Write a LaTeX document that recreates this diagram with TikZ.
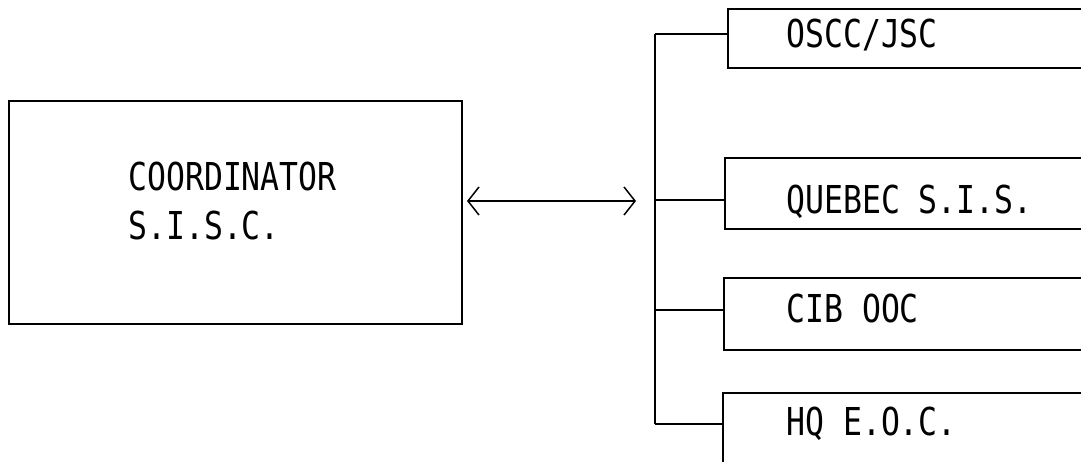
\documentclass[tikz,border=0pt]{standalone}
\usepackage{fontspec}
\newfontfamily\typefont{DejaVu Sans Mono}
\usetikzlibrary{arrows.meta}
\newcommand\tallt[1]{\scalebox{1}[1.22]{#1}}
\tikzset{
  box/.style={draw, line width=2pt, rectangle, inner sep=0pt, anchor=north west},
  stub/.style={line width=1.6pt},
  lbl/.style={anchor=base west, inner sep=0pt, font=\typefont\fontsize{31.5}{36}\selectfont},
  barb/.tip={Straight Barb[length=11pt,width=28pt,line width=1.5pt]},
  dbl/.style={line width=2pt, barb-barb}
}
\begin{document}
\begin{tikzpicture}[x=1pt,y=-1pt]
\useasboundingbox (0,0) rectangle (1081,461);
\clip (0,0) rectangle (1081,461);
% left box
\node[box, minimum width=453pt, minimum height=223pt] (coord) at (8,100) {};
\node[lbl] (t1) at (128,190) {\tallt{COORDINATOR}};
\node[lbl] (t2) at (128,239) {\tallt{S.I.S.C.}};
% right boxes (open to the right edge)
\node[box, minimum width=500pt, minimum height=59pt] (oscc) at (727,8) {};
\node[box, minimum width=500pt, minimum height=71pt] (queb) at (724,157) {};
\node[box, minimum width=500pt, minimum height=72pt] (cib) at (723,277) {};
\node[box, minimum width=500pt, minimum height=120pt] (hq) at (722,392) {};
\node[lbl] (l1) at (786,47) {\tallt{OSCC/JSC}};
\node[lbl] (l2) at (786,213) {\tallt{QUEBEC S.I.S.}};
\node[lbl] (l3) at (786,322) {\tallt{CIB OOC}};
\node[lbl] (l4) at (786,435) {\tallt{HQ E.O.C.}};
% bus
\coordinate (j1) at (655,34);
\coordinate (j2) at (655,200);
\coordinate (j3) at (655,310);
\coordinate (j4) at (655,424);
\draw[stub, line width=2pt] (j1) -- (j4);
\draw[stub] (j1) -- (j1 -| oscc.west);
\draw[stub] (j2) -- (j2 -| queb.west);
\draw[stub] (j3) -- (j3 -| cib.west);
\draw[stub] (j4) -- (j4 -| hq.west);
% double arrow
\coordinate (a1) at (467,201);
\coordinate (a2) at (636,201);
\draw[dbl] (a1) -- (a2);
\end{tikzpicture}
\end{document}
